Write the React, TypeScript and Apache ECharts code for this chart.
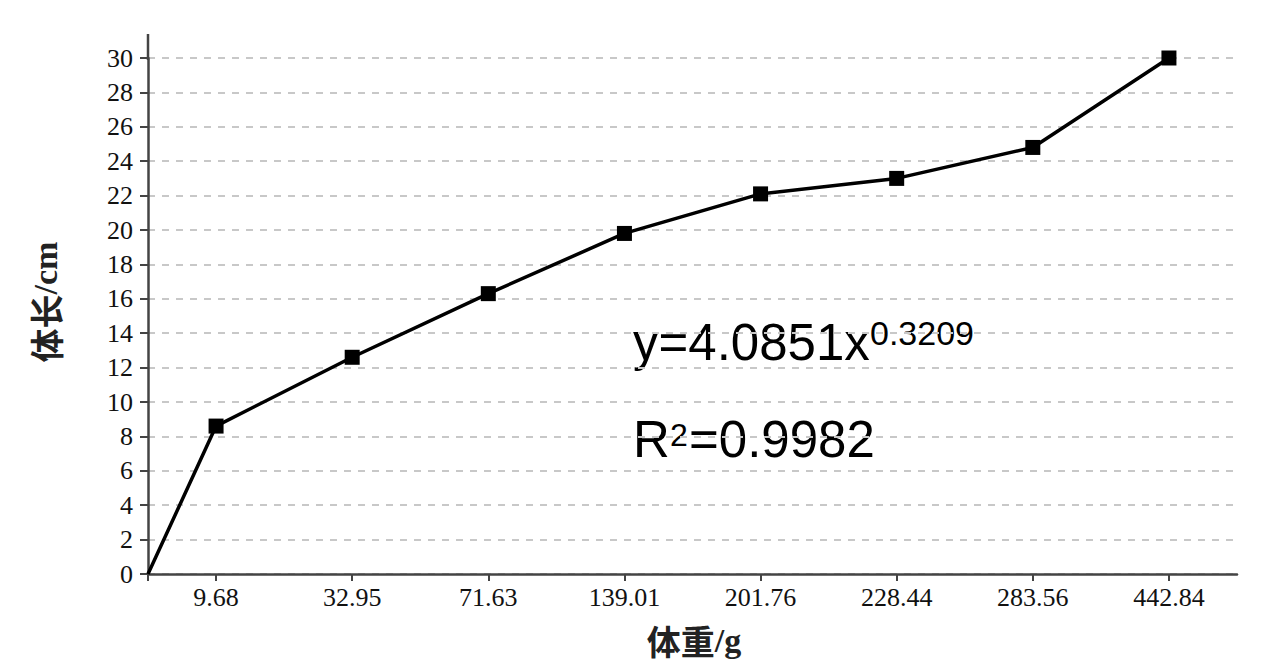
import React, { useEffect, useRef } from "react";
import * as echarts from "echarts";

const xLabels = ["9.68", "32.95", "71.63", "139.01", "201.76", "228.44", "283.56", "442.84"];
const bodyLength = [8.6, 12.6, 16.3, 19.8, 22.1, 23.0, 24.8, 30.0];
const yTicks = { min: 0, max: 30, interval: 2 };
const equationText = "y=4.0851x";
const exponentText = "0.3209";
const r2Value = "=0.9982";

export default function App() {
  const ref = useRef<HTMLDivElement>(null);
  useEffect(() => {
    if (!ref.current) return;
    const chart = echarts.init(ref.current, null, { renderer: "svg" });
    const positions = xLabels.map((_, i) => i + 0.5);
    const data: any[] = [
      { value: [0, 0], symbol: "none" },
      ...bodyLength.map((v, i) => [positions[i], v]),
    ];
    const serif = "'Liberation Serif', 'Times New Roman', serif";
    const cjk = "'Noto Sans CJK SC', sans-serif";
    const sans = "'Liberation Sans', Arial, sans-serif";
    chart.setOption({
      animation: false,
      backgroundColor: "#ffffff",
      grid: { left: 140, right: 35, top: 50, bottom: 90, containLabel: false },
      xAxis: {
        type: "value",
        min: 0,
        max: xLabels.length,
        axisLine: { show: true, lineStyle: { color: "#444", width: 2.5 } },
        axisTick: { show: true, customValues: [0, ...positions], length: 7, lineStyle: { color: "#444", width: 2 } },
        axisLabel: {
          customValues: positions,
          formatter: (v: number) => xLabels[Math.round(v - 0.5)] ?? "",
          color: "#111",
          fontFamily: serif,
          fontSize: 26,
          margin: 10,
        },
        splitLine: { show: false },
      },
      yAxis: {
        type: "value",
        min: yTicks.min,
        max: yTicks.max,
        interval: yTicks.interval,
        axisLine: { show: true, lineStyle: { color: "#444", width: 2.5 } },
        axisTick: { show: true, length: 8, lineStyle: { color: "#444", width: 2 } },
        axisLabel: { color: "#111", fontFamily: serif, fontSize: 26, margin: 15 },
        splitLine: { show: true, lineStyle: { color: "#c8c8c8", type: [7, 7], width: 2 } },
      },
      series: [
        {
          type: "line",
          data,
          symbol: "rect",
          symbolSize: 15,
          showSymbol: true,
          lineStyle: { color: "#000", width: 3.5 },
          itemStyle: { color: "#000" },
          emphasis: { disabled: true },
        },
      ],
      graphic: [
        { type: "line", shape: { x1: 140, y1: 26, x2: 140, y2: 52 }, style: { stroke: "#444", lineWidth: 2.5 } },
        {
          type: "text",
          x: 686,
          y: 632,
          style: {
            text: "{c|体重}{s|/g}",
            align: "center",
            verticalAlign: "middle",
            rich: {
              c: { fontFamily: cjk, fontWeight: "bold", fontSize: 34, fill: "#222" },
              s: { fontFamily: serif, fontWeight: "bold", fontSize: 34, fill: "#222" },
            },
          },
        },
        {
          type: "text",
          x: 37,
          y: 294,
          rotation: Math.PI / 2,
          style: {
            text: "{c|体长}{s|/cm}",
            align: "center",
            verticalAlign: "middle",
            rich: {
              c: { fontFamily: cjk, fontWeight: "bold", fontSize: 34, fill: "#222" },
              s: { fontFamily: serif, fontWeight: "bold", fontSize: 34, fill: "#222" },
            },
          },
        },
        {
          type: "text",
          x: 625,
          y: 334,
          style: { text: equationText, fontFamily: sans, fontSize: 51, fill: "#000", verticalAlign: "middle" },
        },
        {
          type: "text",
          x: 862,
          y: 325,
          style: { text: exponentText, fontFamily: sans, fontSize: 34, fill: "#000", verticalAlign: "middle" },
        },
        {
          type: "text",
          x: 625,
          y: 431,
          style: { text: "R", fontFamily: sans, fontSize: 51, fill: "#000", verticalAlign: "middle" },
        },
        {
          type: "text",
          x: 662,
          y: 427,
          style: { text: "2", fontFamily: sans, fontSize: 32, fill: "#000", verticalAlign: "middle" },
        },
        {
          type: "text",
          x: 681,
          y: 431,
          style: { text: r2Value, fontFamily: sans, fontSize: 51, fill: "#000", verticalAlign: "middle" },
        },
      ],
    });
    return () => chart.dispose();
  }, []);
  return <div ref={ref} style={{ width: 1264, height: 656 }} />;
}
